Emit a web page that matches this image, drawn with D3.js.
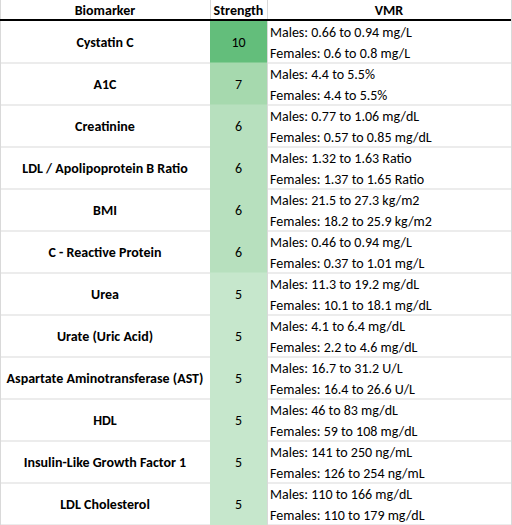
<!DOCTYPE html><html><head><meta charset="utf-8"><script src="https://cdn.jsdelivr.net/npm/d3@7"></script>
<style>body{margin:0;background:#fff}</style></head><body><svg id="c" width="512" height="525"></svg>
<script>
const headers=["Biomarker","Strength","VMR"];
const biomarkers=["Cystatin C","A1C","Creatinine","LDL / Apolipoprotein B Ratio","BMI","C - Reactive Protein","Urea","Urate (Uric Acid)","Aspartate Aminotransferase (AST)","HDL","Insulin-Like Growth Factor 1","LDL Cholesterol"];
const strength=[10,7,6,6,6,6,5,5,5,5,5,5];
const males=["Males: 0.66 to 0.94 mg/L","Males: 4.4 to 5.5%","Males: 0.77 to 1.06 mg/dL","Males: 1.32 to 1.63 Ratio","Males: 21.5 to 27.3 kg/m2","Males: 0.46 to 0.94 mg/L","Males: 11.3 to 19.2 mg/dL","Males: 4.1 to 6.4 mg/dL","Males: 16.7 to 31.2 U/L","Males: 46 to 83 mg/dL","Males: 141 to 250 ng/mL","Males: 110 to 166 mg/dL"];
const females=["Females: 0.6 to 0.8 mg/L","Females: 4.4 to 5.5%","Females: 0.57 to 0.85 mg/dL","Females: 1.37 to 1.65 Ratio","Females: 18.2 to 25.9 kg/m2","Females: 0.37 to 1.01 mg/L","Females: 10.1 to 18.1 mg/dL","Females: 2.2 to 4.6 mg/dL","Females: 16.4 to 26.6 U/L","Females: 59 to 108 mg/dL","Females: 126 to 254 ng/mL","Females: 110 to 179 mg/dL"];
const svg=d3.select("#c");
const font="Carlito, Calibri, 'Open Sans', sans-serif";
const cols=[0,210,267,511];
const headH=20, rowH=42;
const y=d3.scaleBand().domain(d3.range(biomarkers.length)).range([headH+1,headH+1+rowH*biomarkers.length]).padding(0);
const color=d3.scaleLinear().domain([5,6,7,10]).range(["#c6e7cc","#b7e0be","#a6d9ae","#63be7b"]);
// grid
biomarkers.forEach((b,i)=>{
  const yy=y(i);
  svg.append("line").attr("x1",0).attr("x2",cols[3]).attr("y1",yy+rowH).attr("y2",yy+rowH).attr("stroke","#d9d9d9");
});
cols.forEach(x=>svg.append("line").attr("x1",x+0.5).attr("x2",x+0.5).attr("y1",0).attr("y2",525).attr("stroke","#d9d9d9"));
// fills
svg.selectAll("rect.s").data(strength).join("rect").attr("x",cols[1]).attr("width",cols[2]-cols[1]).attr("y",(d,i)=>y(i)-0.5).attr("height",rowH+1).attr("fill",d=>color(d));
svg.append("line").attr("x1",0).attr("x2",cols[3]).attr("y1",headH).attr("y2",headH).attr("stroke","#000").attr("stroke-width",2);
// headers
headers.forEach((h,j)=>svg.append("text").attr("x",(cols[j]+cols[j+1])/2).attr("y",15).attr("text-anchor","middle").attr("font-family",font).attr("font-weight","bold").attr("font-size",14).text(h));
const g=svg.selectAll("g.r").data(biomarkers).join("g").attr("transform",(d,i)=>`translate(0,${y(i)})`);
g.append("text").attr("x",(cols[0]+cols[1])/2).attr("y",26).attr("text-anchor","middle").attr("font-family",font).attr("font-weight","bold").attr("font-size",14).text(d=>d);
g.append("text").attr("x",(cols[1]+cols[2])/2).attr("y",26).attr("text-anchor","middle").attr("font-family",font).attr("font-size",14).text((d,i)=>strength[i]);
g.append("text").attr("x",cols[2]+3).attr("y",16).attr("font-family",font).attr("font-size",14).text((d,i)=>males[i]);
g.append("text").attr("x",cols[2]+3).attr("y",37).attr("font-family",font).attr("font-size",14).text((d,i)=>females[i]);
</script></body></html>
